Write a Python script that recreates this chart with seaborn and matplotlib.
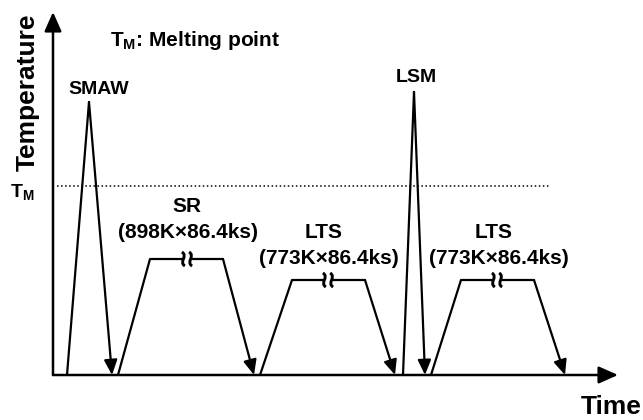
import numpy as np
import pandas as pd
import seaborn as sns
import matplotlib.pyplot as plt
from matplotlib.path import Path
from matplotlib.patches import PathPatch, Rectangle

# schematic thermal history (arbitrary time / temperature units)
smaw_time = [14, 36, 59]
smaw_temp = [0, 273, 0]
sr_time = [65, 97, 170, 201]
sr_temp = [0, 116, 116, 0]
lts1_time = [207, 239, 312, 342]
lts1_temp = [0, 95, 95, 0]
lsm_time = [350, 361, 372]
lsm_temp = [0, 283, 0]
lts2_time = [378, 408, 481, 512]
lts2_temp = [0, 95, 95, 0]
t_melt = 189

sns.set_theme(style="white")
plt.rcParams['font.family'] = ['Liberation Sans', 'DejaVu Sans']
plt.rcParams['font.weight'] = 'bold'
plt.rcParams['text.color'] = 'black'
plt.rcParams['mathtext.fontset'] = 'custom'
plt.rcParams['mathtext.bf'] = 'Liberation Sans:bold'
plt.rcParams['mathtext.rm'] = 'Liberation Sans:bold'

fig = plt.figure(figsize=(6.43, 4.2), dpi=100)
ax = fig.add_axes([53 / 643, 45 / 420, 565 / 643, 363 / 420])
ax.set_xlim(0, 565)
ax.set_ylim(0, 363)
ax.axis("off")

segments = [
    (smaw_time, smaw_temp),
    (sr_time, sr_temp),
    (lts1_time, lts1_temp),
    (lsm_time, lsm_temp),
    (lts2_time, lts2_temp),
]
for t, T in segments:
    df = pd.DataFrame({"time": t[:-1], "temp": T[:-1]})
    sns.lineplot(data=df, x="time", y="temp", sort=False, color="black",
                 linewidth=1.6, ax=ax, clip_on=False)
    # last leg ends with an arrow
    ax.annotate("", xy=(t[-1], T[-1]), xytext=(t[-2], T[-2]),
                arrowprops=dict(arrowstyle="-|>,head_length=0.75,head_width=0.33",
                                mutation_scale=12, lw=1.6, color="black",
                                shrinkA=0, shrinkB=0))

# melting point
ax.plot([4, 497], [t_melt, t_melt], ls=":", color="black", lw=1.1)

# axes with arrows
ax.annotate("", xy=(0, 363), xytext=(0, 0),
            arrowprops=dict(arrowstyle="-|>,head_length=0.9,head_width=0.4",
                            mutation_scale=13, lw=1.8, color="black",
                            shrinkA=0, shrinkB=0))
ax.annotate("", xy=(565, 0), xytext=(0, 0),
            arrowprops=dict(arrowstyle="-|>,head_length=0.9,head_width=0.4",
                            mutation_scale=13, lw=1.8, color="black",
                            shrinkA=0, shrinkB=0))


def break_mark(cx, cy):
    # white gap in the holding line, then two wavy strokes
    ax.add_patch(Rectangle((cx - 3.5, cy - 2.5), 7, 5, fc="white", ec="none", zorder=4))
    for dx in (-3.6, 3.6):
        x0 = cx + dx
        verts = [(x0 - 1.5, cy + 7), (x0 + 5, cy + 3), (x0 - 5, cy - 3), (x0 + 1.5, cy - 7)]
        codes = [Path.MOVETO, Path.CURVE4, Path.CURVE4, Path.CURVE4]
        ax.add_patch(PathPatch(Path(verts, codes), fc="none", ec="black", lw=2.1,
                               capstyle="butt", zorder=5))


for bx, by in [(134, 116), (275, 95), (444, 95)]:
    break_mark(bx, by)

ax.text(-25, 283, "Temperature", rotation=90, ha="center", va="center",
        fontsize=19, fontweight="bold")
ax.text(558, -39, "Time", ha="center", va="baseline", fontsize=19, fontweight="bold")
ax.text(-31, 182, r"T$_\mathbf{M}$", ha="center", va="center", fontsize=14,
        fontweight="bold")
ax.text(57, 335, r"T$_\mathbf{M}$: Melting point", ha="left", va="center",
        fontsize=15, fontweight="bold")
ax.text(46, 285, "SMAW", ha="center", va="center", fontsize=14, fontweight="bold")
ax.text(363, 297, "LSM", ha="center", va="center", fontsize=14, fontweight="bold")
ax.text(134, 168, "SR", ha="center", va="center", fontsize=15, fontweight="bold")
ax.text(135, 142, "(898K×86.4ks)", ha="center", va="center", fontsize=15,
        fontweight="bold")
ax.text(271, 142, "LTS", ha="center", va="center", fontsize=15, fontweight="bold")
ax.text(276, 116, "(773K×86.4ks)", ha="center", va="center", fontsize=15,
        fontweight="bold")
ax.text(441, 143, "LTS", ha="center", va="center", fontsize=15, fontweight="bold")
ax.text(446, 117, "(773K×86.4ks)", ha="center", va="center", fontsize=15,
        fontweight="bold")

fig.savefig("out.png", dpi=100)
